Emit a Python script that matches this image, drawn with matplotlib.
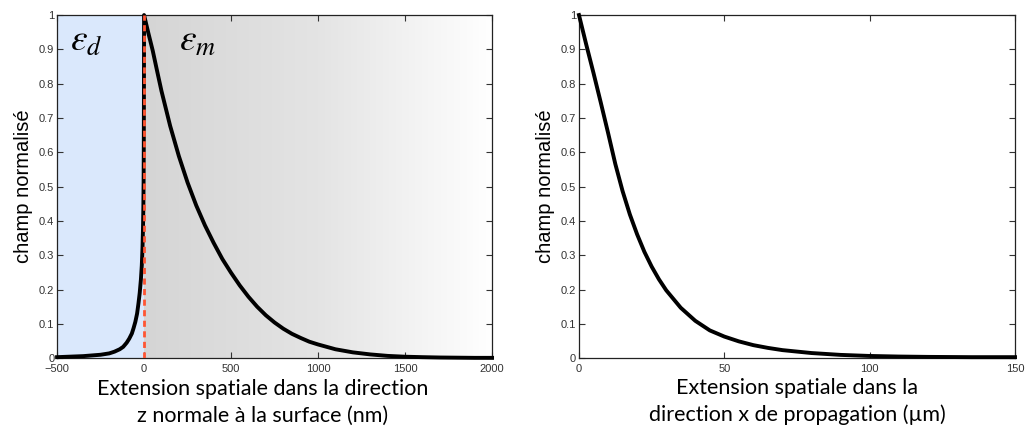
import numpy as np
import matplotlib.pyplot as plt
from matplotlib.colors import LinearSegmentedColormap

plt.rcParams["mathtext.fontset"] = "stix"

# field profile across the interface (z in nm): dielectric side (z < 0), metal side (z > 0)
z_nm = [-500, -450, -400, -350, -300, -250, -200, -170, -140, -120, -100, -85, -70, -60,
        -50, -40, -32, -25, -18, -13, -9, -6, -4, -2.5, -1.5, -0.8, -0.3, 0,
        25, 50, 75, 100, 150, 200, 250, 300, 350, 400, 450, 500, 550, 600, 650, 700,
        750, 800, 850, 900, 950, 1000, 1100, 1200, 1300, 1400, 1500, 1600, 1700, 1800,
        1900, 2000]
field_z = [0.003, 0.004, 0.005, 0.006, 0.008, 0.010, 0.014, 0.019, 0.026, 0.033, 0.045,
           0.057, 0.072, 0.088, 0.106, 0.13, 0.16, 0.19, 0.23, 0.27, 0.32, 0.38, 0.44,
           0.52, 0.62, 0.75, 0.88, 1.0,
           0.947, 0.896, 0.837, 0.779, 0.677, 0.589, 0.512, 0.445, 0.387, 0.336, 0.289,
           0.249, 0.212, 0.179, 0.150, 0.125, 0.104, 0.086, 0.071, 0.059, 0.048, 0.040,
           0.026, 0.017, 0.011, 0.0067, 0.0043, 0.003, 0.002, 0.0015, 0.001, 0.001]

# field along the propagation direction (x in um)
x_um = [0, 2.5, 5, 7.5, 10, 12.5, 15, 17.5, 20, 22.5, 25, 27.5, 30, 35, 40, 45, 50, 55,
        60, 65, 70, 80, 90, 100, 110, 120, 135, 150]
field_x = [1.0, 0.914, 0.831, 0.745, 0.657, 0.566, 0.487, 0.419, 0.361, 0.310, 0.267,
           0.230, 0.198, 0.147, 0.109, 0.081, 0.063, 0.049, 0.038, 0.030, 0.0235, 0.015,
           0.0096, 0.0065, 0.0048, 0.0038, 0.003, 0.003]

yticks = np.arange(0, 1.01, 0.1)
ytick_labels = ["0", "0.1", "0.2", "0.3", "0.4", "0.5", "0.6", "0.7", "0.8", "0.9", "1"]

label_font = "Lato"
tick_font = "Liberation Sans"

fig = plt.figure(figsize=(10.26, 4.30), dpi=100)
ax1 = fig.add_axes([0.0556, 0.167, 0.4240, 0.798])
ax2 = fig.add_axes([0.5643, 0.167, 0.4250, 0.798])


def style_axes(ax):
    ax.set_ylim(0, 1)
    ax.set_yticks(yticks)
    ax.set_yticklabels(ytick_labels)
    ax.tick_params(direction="in", top=True, right=True, length=4, width=0.8,
                   labelsize=8, colors="#333333", pad=2)
    ax.tick_params(axis="x", pad=4)
    for lab in ax.get_xticklabels() + ax.get_yticklabels():
        lab.set_fontfamily(tick_font)
    for sp in ax.spines.values():
        sp.set_color("#222222")
        sp.set_linewidth(0.9)
    ax.set_ylabel("champ normalisé", fontsize=14.5, family=tick_font, labelpad=4)


# left panel: dielectric / metal interface
ax1.axvspan(-500, 0, color="#dae8fc", zorder=0)
grey_cmap = LinearSegmentedColormap.from_list("metal", ["#d5d5d5", "#e4e4e4", "#ffffff"])
ax1.imshow(np.linspace(0, 1, 256).reshape(1, -1), cmap=grey_cmap, aspect="auto",
           extent=[0, 2000, 0, 1], zorder=0)
ax1.plot(z_nm, field_z, color="black", lw=2.8, zorder=3, clip_on=False,
         solid_joinstyle="round")
ax1.axvline(0, color="#ff5533", lw=2.0, ls=(0, (2.2, 1.6)), zorder=4)
ax1.text(-330, 0.925, r"$\varepsilon_d$", fontsize=27, ha="center", va="center")
ax1.text(310, 0.925, r"$\varepsilon_m$", fontsize=27, ha="center", va="center")
ax1.set_xlim(-500, 2000)
ax1.set_xticks([-500, 0, 500, 1000, 1500, 2000])
style_axes(ax1)
ax1.set_xlabel("Extension spatiale dans la direction\nz normale à la surface (nm)",
               fontsize=15.5, family=label_font, labelpad=4, linespacing=1.45)
ax1.xaxis.set_label_coords(0.472, -0.06, transform=ax1.transAxes)
ax1.xaxis.label.set_verticalalignment("top")

# right panel: decay along propagation
ax2.plot(x_um, field_x, color="black", lw=2.8, zorder=3, clip_on=False,
         solid_joinstyle="round")
ax2.set_xlim(0, 150)
ax2.set_xticks([0, 50, 100, 150])
style_axes(ax2)
ax2.set_xlabel("Extension spatiale dans la\ndirection x de propagation (µm)",
               fontsize=15.5, family=label_font, labelpad=3, linespacing=1.4)

fig.savefig("out.png", dpi=100)
plt.close(fig)
